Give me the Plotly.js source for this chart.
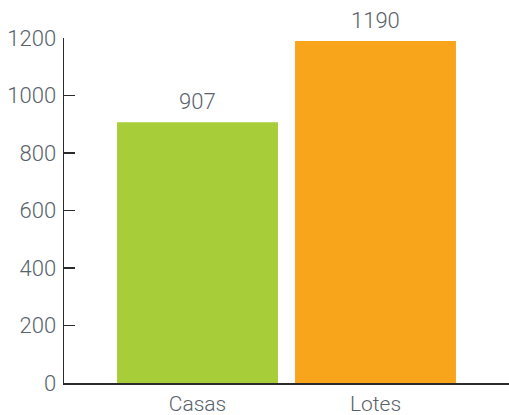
<!DOCTYPE html>
<html>
<head>
<meta charset="utf-8">
<script src="https://cdn.plot.ly/plotly-3.0.1.min.js"></script>
<style>html,body{margin:0;padding:0;background:#fff}#chart{width:509px;height:415px}</style>
</head>
<body>
<div id="chart"></div>
<script>
const categories = ["Casas", "Lotes"];
const values = [907, 1190];
const barColors = ["#a7ce39", "#f8a51c"];
const yTickVals = [0, 200, 400, 600, 800, 1000, 1200];

const textColor = "#58626b";
const fontFamily = "Roboto, 'Open Sans', sans-serif";

const trace = {
  type: "bar",
  x: categories,
  y: values,
  marker: {color: barColors},
  hoverinfo: "none"
};

const annotations = categories.map((c, i) => ({
  x: c, y: values[i], text: String(values[i]),
  xref: "x", yref: "y", showarrow: false,
  yanchor: "bottom", yshift: 6,
  font: {family: fontFamily, size: 22, color: textColor, weight: 300}
}));

const layout = {
  width: 509, height: 415,
  margin: {l: 64, r: 0, t: 38, b: 32, pad: 0},
  paper_bgcolor: "#fff", plot_bgcolor: "#fff",
  showlegend: false,
  bargap: 0.096,
  font: {family: fontFamily, size: 22, color: textColor, weight: 300},
  xaxis: {
    type: "category",
    range: [-0.75, 1.75],
    showline: true, linecolor: "#2b2b2b", linewidth: 1.5,
    ticks: "", showgrid: false, zeroline: false,
    tickfont: {family: fontFamily, size: 21, color: textColor, weight: 300},
    ticklabelstandoff: 1
  },
  yaxis: {
    range: [0, 1200],
    tickvals: yTickVals,
    showline: true, linecolor: "#2b2b2b", linewidth: 1.5,
    ticks: "inside", ticklen: 11, tickwidth: 1.5, tickcolor: "#2b2b2b",
    showgrid: false, zeroline: false,
    tickfont: {family: fontFamily, size: 22, color: textColor, weight: 300},
    ticklabelstandoff: 2
  },
  annotations: annotations
};

Plotly.newPlot("chart", [trace], layout, {staticPlot: true, displayModeBar: false});
</script>
</body>
</html>
